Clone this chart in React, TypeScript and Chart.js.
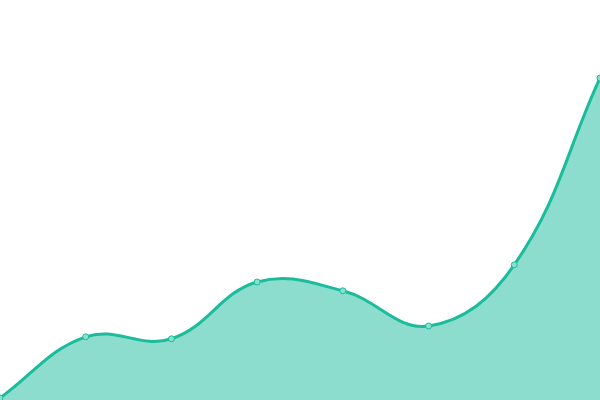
import { useEffect, useRef } from 'react';
import Chart from 'chart.js/auto';

const labels = ['1', '2', '3', '4', '5', '6', '7', '8'];
const values = [0.5, 15.8, 15.3, 29.5, 27.3, 18.5, 33.8, 80.5];

const App = () => {
  const canvasRef = useRef<HTMLCanvasElement | null>(null);

  useEffect(() => {
    document.body.style.margin = '0';
    if (!canvasRef.current) return;
    const chart = new Chart(canvasRef.current, {
      type: 'line',
      data: {
        labels,
        datasets: [
          {
            data: values,
            borderColor: '#1abc9c',
            backgroundColor: 'rgba(26, 188, 156, 0.5)',
            borderWidth: 3,
            fill: 'origin',
            tension: 0.4,
            pointRadius: 3,
            pointBorderWidth: 1,
            pointBackgroundColor: '#8ae0cf',
            pointBorderColor: '#1abc9c',
          },
        ],
      },
      options: {
        animation: false,
        responsive: false,
        maintainAspectRatio: false,
        layout: { padding: 0, autoPadding: false },
        plugins: { legend: { display: false }, tooltip: { enabled: false } },
        scales: {
          x: { display: false },
          y: { display: false, min: 0, max: 100 },
        },
      },
    });
    return () => chart.destroy();
  }, []);

  return (
    <div style={{ width: 600, height: 400 }}>
      <canvas ref={canvasRef} width={600} height={400} style={{ display: 'block' }} />
    </div>
  );
};

export default App;
